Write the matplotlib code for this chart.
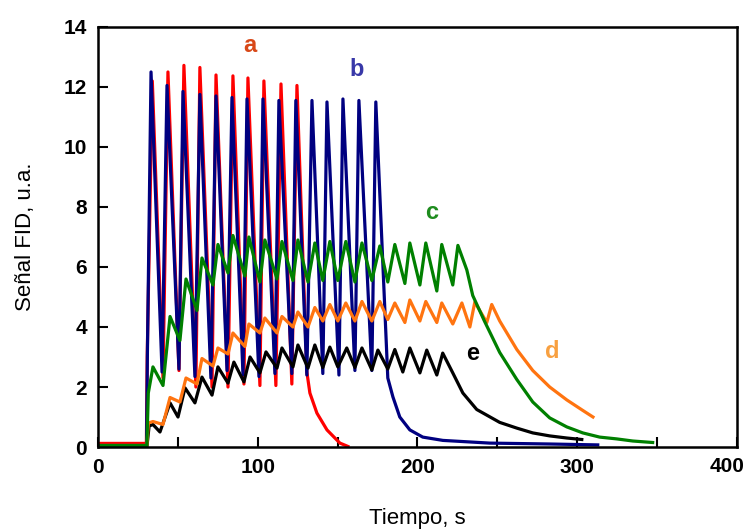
import matplotlib.pyplot as plt
from matplotlib.ticker import MultipleLocator

plt.rcParams["font.family"] = ["Liberation Sans", "DejaVu Sans"]

# ── curve a (red) ─────────────────────────────────────────────
t_a = [0, 30.3, 30.8, 34.0, 40.7, 43.8, 50.7, 53.8, 61.3, 63.8, 71.4, 73.9, 81.4,
       84.5, 91.4, 93.9, 101.4, 103.9, 111.4, 114.6, 121.4, 124.6, 130.8, 132.7,
       137.1, 143.4, 151.5, 156.5]
y_a = [0.12, 0.12, 3.0, 12.2, 2.3, 12.5, 2.55, 12.72, 2.0, 12.65, 2.0, 12.4, 2.0,
       12.37, 2.1, 12.3, 2.05, 12.2, 2.05, 12.1, 2.1, 12.05, 2.5, 1.8,
       1.13, 0.57, 0.13, 0.02]

# ── curve b (navy) ────────────────────────────────────────────
t_b = [0, 30.4, 30.9, 33.2, 40.1, 43.2, 50.7, 53.2, 60.7, 63.8, 70.7, 73.9, 80.8,
       83.9, 90.8, 93.3, 100.8, 103.3, 110.8, 113.3, 121.4, 123.9, 130.8, 134.0,
       140.8, 143.4, 150.9, 153.4, 160.9, 163.4, 171.5, 174.0, 181.5, 184.7,
       189.0, 195.3, 203.4, 216.0, 245.4, 283.0, 313.0]
y_b = [0.05, 0.05, 3.0, 12.5, 2.5, 12.05, 2.6, 11.85, 2.35, 11.75, 2.3, 11.7, 2.55,
       11.65, 2.4, 11.6, 2.35, 11.6, 2.45, 11.55, 2.45, 11.55, 2.4, 11.55,
       2.45, 11.5, 2.4, 11.6, 2.55, 11.55, 2.55, 11.5, 2.3, 1.67,
       1.0, 0.57, 0.33, 0.22, 0.13, 0.1, 0.07]

# ── curve c (green) ───────────────────────────────────────────
t_c = [0, 30.6, 31.5, 34.4, 40.7, 45.1, 51.3, 55.1, 62.0, 65.1, 72.0, 75.1, 81.4,
       84.5, 92.0, 94.5, 101.4, 104.5, 112.1, 115.2, 122.1, 125.2, 131.5, 135.8,
       140.8, 145.2, 150.2, 155.2, 160.9, 165.3, 171.5, 176.5, 181.5, 185.9,
       192.2, 195.3, 201.6, 205.3, 212.2, 215.3, 222.2, 225.4, 231.0, 234.7,
       242.0, 251.6, 262.3, 272.3, 282.9, 293.6, 303.6, 314.2, 324.9, 334.9, 347.4]
y_c = [0.05, 0.05, 1.8, 2.67, 2.05, 4.35, 3.55, 5.6, 4.55, 6.3, 5.4, 6.75, 5.8,
       7.05, 5.7, 7.0, 5.5, 6.9, 5.6, 6.85, 5.55, 6.9, 5.5, 6.8,
       5.55, 6.85, 5.55, 6.85, 5.5, 6.8, 5.55, 6.7, 5.5, 6.75,
       5.45, 6.8, 5.4, 6.8, 5.2, 6.75, 5.4, 6.72, 5.9, 5.05,
       4.2, 3.15, 2.25, 1.5, 0.97, 0.67, 0.47, 0.33, 0.27, 0.2, 0.15]

# ── curve d (orange) ──────────────────────────────────────────
t_d = [0, 30.6, 31.5, 34.4, 40.7, 45.1, 51.3, 55.1, 62.0, 65.1, 72.0, 75.1, 81.4,
       84.5, 92.0, 94.5, 101.4, 104.5, 112.1, 115.2, 122.1, 125.2, 131.5, 135.8,
       140.8, 145.2, 150.2, 155.2, 160.9, 165.3, 171.5, 176.5, 181.5, 185.9,
       192.2, 195.3, 201.6, 205.3, 212.2, 215.3, 222.2, 227.9, 232.9, 236.0,
       243.5, 246.6, 251.6, 262.3, 272.3, 282.9, 293.6, 303.6, 310.0]
y_d = [0.05, 0.05, 0.8, 0.85, 0.75, 1.65, 1.5, 2.3, 2.1, 2.95, 2.7, 3.3, 3.1,
       3.8, 3.35, 4.1, 3.8, 4.3, 3.8, 4.35, 4.0, 4.5, 4.0, 4.65,
       4.2, 4.75, 4.2, 4.8, 4.2, 4.85, 4.2, 4.85, 4.25, 4.8,
       4.15, 4.9, 4.2, 4.85, 4.15, 4.8, 4.1, 4.8, 4.0, 4.83,
       4.15, 4.75, 4.2, 3.25, 2.55, 2.0, 1.57, 1.22, 1.0]

# ── curve e (black) ───────────────────────────────────────────
t_e = [0, 30.6, 32.0, 34.4, 38.8, 45.1, 50.1, 54.5, 60.7, 65.1, 71.4, 75.1, 81.4,
       85.1, 91.4, 95.2, 101.4, 105.2, 112.1, 115.2, 122.1, 125.2, 131.5, 135.8,
       140.8, 145.2, 150.2, 155.8, 160.9, 165.3, 171.5, 175.3, 181.5, 185.9,
       190.9, 195.3, 201.6, 205.9, 212.2, 215.9, 222.2, 228.5, 237.2, 251.6,
       262.3, 272.3, 282.9, 293.6, 303.0]
y_e = [0.0, 0.0, 0.7, 0.75, 0.5, 1.47, 1.0, 1.97, 1.47, 2.33, 1.73, 2.67, 2.13,
       2.83, 2.17, 3.0, 2.47, 3.17, 2.63, 3.3, 2.67, 3.4, 2.63, 3.4,
       2.65, 3.33, 2.67, 3.3, 2.65, 3.3, 2.57, 3.23, 2.6, 3.25,
       2.5, 3.3, 2.47, 3.23, 2.4, 3.13, 2.47, 1.8, 1.25, 0.82,
       0.63, 0.47, 0.37, 0.3, 0.25]

x_ticks = [0, 100, 200, 300, 400]
x_ticklabels = ["0", "100", "200", "300", ""]  # "400" is placed by hand below

fig = plt.figure(figsize=(7.54, 5.29), dpi=100)
ax = fig.add_axes([0.130, 0.155, 0.847, 0.794])

lw = 2.3
ax.plot(t_a, y_a, color="#ff0000", lw=lw)
ax.plot(t_b, y_b, color="#000080", lw=lw)
ax.plot(t_e, y_e, color="#000000", lw=lw)
ax.plot(t_d, y_d, color="#ff7410", lw=lw)
ax.plot(t_c, y_c, color="#008000", lw=lw)

lab = dict(fontsize=17, fontweight="bold", ha="center", va="center")
ax.text(95.1, 13.37, "a", color="#d84818", **lab)
ax.text(162.1, 12.57, "b", color="#3838a8", **lab)
ax.text(209.0, 7.83, "c", color="#1e8c1e", **lab)
ax.text(234.7, 3.13, "e", color="#000000", **lab)
ax.text(284.8, 3.17, "d", color="#f8a040", **lab)

ax.set_xlim(0, 400)
ax.set_ylim(0, 14)
ax.set_xticks(x_ticks, x_ticklabels)
ax.xaxis.set_minor_locator(MultipleLocator(50))
ax.yaxis.set_major_locator(MultipleLocator(2))
ax.tick_params(which="both", direction="in", top=False, right=False, width=1.5)
ax.tick_params(which="major", length=7, labelsize=15, pad=8)
ax.tick_params(which="minor", length=7)
for lbl in ax.get_xticklabels() + ax.get_yticklabels():
    lbl.set_fontweight("bold")
for sp in ax.spines.values():
    sp.set_linewidth(1.8)

# last x label sits a little inside the figure edge, as in the original
ax.annotate("400", xy=(400, 0), xycoords="data", xytext=(-10, -10),
            textcoords="offset pixels", ha="center", va="top",
            fontsize=15, fontweight="bold", annotation_clip=False)

ax.set_xlabel("Tiempo, s", fontsize=16, labelpad=22)
ax.set_ylabel("Señal FID, u.a.", fontsize=16, labelpad=20)

fig.savefig("out.png", dpi=100)
